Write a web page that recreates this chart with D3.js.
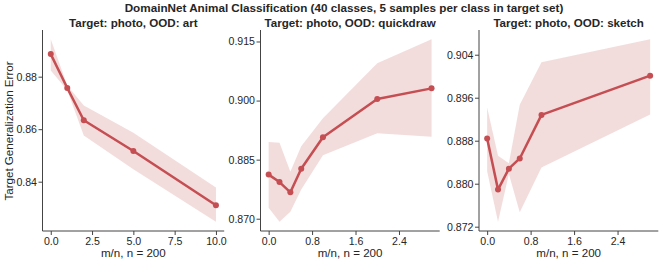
<!DOCTYPE html>
<html><head><meta charset="utf-8">
<script src="https://cdn.jsdelivr.net/npm/d3@7"></script>
<style>body{margin:0;background:#fff}svg{display:block}text{font-family:"Liberation Sans",Arial,sans-serif;fill:#262626}</style>
</head><body><svg id="c" width="665" height="263"></svg>
<script>
const mainTitle = "DomainNet Animal Classification (40 classes, 5 samples per class in target set)";
const titles = ["Target: photo, OOD: art", "Target: photo, OOD: quickdraw", "Target: photo, OOD: sketch"];
const xArt = [0, 1, 2, 5, 10];
const meanArt = [0.8886, 0.8757, 0.8634, 0.8517, 0.8310];
const lowArt = [0.8824, 0.8748, 0.8576, 0.8447, 0.8247];
const highArt = [0.8943, 0.8766, 0.8690, 0.8586, 0.8378];
const xQuick = [0, 0.2, 0.4, 0.6, 1.0, 2.0, 3.0];
const meanQuick = [0.8812, 0.8793, 0.8767, 0.8827, 0.8907, 0.9004, 0.9031];
const lowQuick = [0.8728, 0.8692, 0.8718, 0.8774, 0.8861, 0.8917, 0.8908];
const highQuick = [0.8895, 0.8893, 0.8819, 0.8884, 0.8955, 0.9095, 0.9156];
const xSketch = [0, 0.2, 0.4, 0.6, 1.0, 3.0];
const meanSketch = [0.8884, 0.8789, 0.8828, 0.8847, 0.8928, 0.9001];
const lowSketch = [0.8823, 0.8729, 0.8818, 0.8747, 0.8830, 0.8929];
const highSketch = [0.8942, 0.8852, 0.8838, 0.8947, 0.9026, 0.9069];
const xTicksArt = [0, 2.5, 5, 7.5, 10];
const xTicksOther = [0, 0.8, 1.6, 2.4];
const yTicksArt = [0.84, 0.86, 0.88];
const yTicksQuick = [0.870, 0.885, 0.900, 0.915];
const yTicksSketch = [0.872, 0.880, 0.888, 0.896, 0.904];
const xLabel = "m/n, n = 200";
const yLabel = "Target Generalization Error";

const panels = [
  {x: xArt, m: meanArt, lo: lowArt, hi: highArt, xt: xTicksArt, yt: yTicksArt, xf: d3.format(".1f"), yf: d3.format(".2f"), r: [42.5, 224.2]},
  {x: xQuick, m: meanQuick, lo: lowQuick, hi: highQuick, xt: xTicksOther, yt: yTicksQuick, xf: d3.format(".1f"), yf: d3.format(".3f"), r: [260.5, 439.7]},
  {x: xSketch, m: meanSketch, lo: lowSketch, hi: highSketch, xt: xTicksOther, yt: yTicksSketch, xf: d3.format(".1f"), yf: d3.format(".3f"), r: [479, 658.3]}
];
const svg = d3.select("#c");
const color = "#c44e52";
const plotTop = 30, plotBottom = 231;

svg.append("text").attr("x", 344).attr("y", 12).attr("text-anchor", "middle")
  .style("font-weight", "bold").style("font-size", "11.7px").text(mainTitle);

panels.forEach((p, i) => {
  const xmin = d3.min(p.x), xmax = d3.max(p.x), xm = (xmax - xmin) * 0.05;
  const ymin = d3.min(p.lo), ymax = d3.max(p.hi), ym = (ymax - ymin) * 0.05;
  const x = d3.scaleLinear().domain([xmin - xm, xmax + xm]).range(p.r);
  const y = d3.scaleLinear().domain([ymin - ym, ymax + ym]).range([plotBottom, plotTop]);
  const g = svg.append("g");
  const idx = d3.range(p.x.length);
  g.append("path").datum(idx)
    .attr("d", d3.area().x(j => x(p.x[j])).y0(j => y(p.lo[j])).y1(j => y(p.hi[j])))
    .attr("fill", color).attr("fill-opacity", 0.2).attr("stroke", "none");
  g.append("path").datum(idx)
    .attr("d", d3.line().x(j => x(p.x[j])).y(j => y(p.m[j])))
    .attr("fill", "none").attr("stroke", color).attr("stroke-width", 2.5).attr("stroke-linejoin", "round");
  g.selectAll("circle").data(idx).join("circle")
    .attr("cx", j => x(p.x[j])).attr("cy", j => y(p.m[j])).attr("r", 3).attr("fill", color);

  const xa = g.append("g").attr("transform", `translate(0,${plotBottom})`)
    .call(d3.axisBottom(x).tickValues(p.xt).tickFormat(p.xf).tickSize(4).tickPadding(2));
  const ya = g.append("g").attr("transform", `translate(${p.r[0]},0)`)
    .call(d3.axisLeft(y).tickValues(p.yt).tickFormat(p.yf).tickSize(4).tickPadding(1.5));
  [xa, ya].forEach(a => {
    a.select(".domain").attr("stroke", "#444").attr("stroke-width", 1);
    a.selectAll(".tick line").attr("stroke", "#444");
    a.selectAll(".tick text").style("font-size", "10.6px").attr("fill", "#262626");
  });
  xa.select(".domain").attr("d", `M${p.r[0]},0H${p.r[1]}`);
  ya.select(".domain").attr("d", `M0,${plotTop}V${plotBottom}`);

  g.append("text").attr("x", (p.r[0] + p.r[1]) / 2).attr("y", 26.5).attr("text-anchor", "middle")
    .style("font-weight", "bold").style("font-size", "11.6px").text(titles[i]);
  g.append("text").attr("x", (p.r[0] + p.r[1]) / 2).attr("y", 256.5).attr("text-anchor", "middle")
    .style("font-size", "11.6px").text(xLabel);
});
svg.append("text").attr("transform", "translate(13,131) rotate(-90)").attr("text-anchor", "middle")
  .style("font-size", "11.6px").text(yLabel);
</script></body></html>
